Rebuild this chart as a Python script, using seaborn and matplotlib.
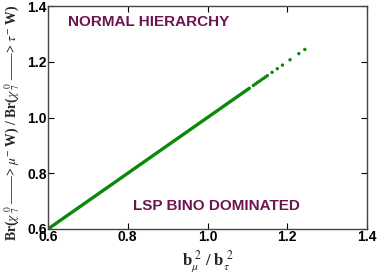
import numpy as np
import pandas as pd
import matplotlib
matplotlib.use("Agg")
import matplotlib.pyplot as plt
import seaborn as sns

# ratio of b_mu^2 / b_tau^2 (x) against branching ratio ratio (y)
dense_x = [0.60, 0.61, 0.62, 0.63, 0.64, 0.65, 0.66, 0.67, 0.68, 0.69,
           0.70, 0.71, 0.72, 0.73, 0.74, 0.75, 0.76, 0.77, 0.78, 0.79,
           0.80, 0.81, 0.82, 0.83, 0.84, 0.85, 0.86, 0.87, 0.88, 0.89,
           0.90, 0.91, 0.92, 0.93, 0.94, 0.95, 0.96, 0.97, 0.98, 0.99,
           1.00, 1.01, 1.02, 1.03, 1.04, 1.05, 1.06, 1.07, 1.08, 1.09,
           1.10, 1.105]
dense_y = [0.60, 0.61, 0.62, 0.63, 0.64, 0.65, 0.66, 0.67, 0.68, 0.69,
           0.70, 0.71, 0.72, 0.73, 0.74, 0.75, 0.76, 0.77, 0.78, 0.79,
           0.80, 0.81, 0.82, 0.83, 0.84, 0.85, 0.86, 0.87, 0.88, 0.89,
           0.90, 0.91, 0.92, 0.93, 0.94, 0.95, 0.96, 0.97, 0.98, 0.99,
           1.00, 1.01, 1.02, 1.03, 1.04, 1.05, 1.06, 1.07, 1.08, 1.09,
           1.10, 1.105]
sparse_x = [1.115, 1.12, 1.125, 1.13, 1.135, 1.14, 1.145, 1.15, 1.162,
            1.175, 1.188, 1.207, 1.229, 1.244]
sparse_y = [1.115, 1.12, 1.125, 1.13, 1.135, 1.14, 1.145, 1.15, 1.162,
            1.175, 1.188, 1.207, 1.229, 1.244]

x_ticks = [0.6, 0.8, 1.0, 1.2, 1.4]
y_ticks = [0.6, 0.8, 1.0, 1.2, 1.4]

green = "#0a8a0a"
maroon = "#6e1450"

sns.set_style("ticks")
plt.rcParams['font.family'] = ['Liberation Sans', 'DejaVu Sans']
plt.rcParams['mathtext.fontset'] = 'stix'

fig = plt.figure(figsize=(3.77, 2.73), dpi=100)
ax = fig.add_axes([48 / 377, 1 - 229 / 273, 319 / 377, 223 / 273])

dense = pd.DataFrame({"x": dense_x, "y": dense_y})
sparse = pd.DataFrame({"x": sparse_x, "y": sparse_y})
sns.lineplot(data=dense, x="x", y="y", ax=ax, color=green, linewidth=2.4)
sns.scatterplot(data=sparse, x="x", y="y", ax=ax, color=green, s=6,
                edgecolor="none")

ax.set_xlim(0.6, 1.4)
ax.set_ylim(0.6, 1.4)
ax.set_xticks(x_ticks)
ax.set_yticks(y_ticks)
ax.set_xticklabels([f"{t:.1f}" for t in x_ticks], fontsize=10, fontweight='bold')
ax.set_yticklabels([f"{t:.1f}" for t in y_ticks], fontsize=10, fontweight='bold')
ax.tick_params(direction='in', length=4, width=0.8, top=True, right=True,
               pad=1.0, colors='black')
for sp in ax.spines.values():
    sp.set_linewidth(1.0)
    sp.set_color('#444444')

serif = ['Liberation Serif', 'DejaVu Serif']
ax.set_xlabel(r"b$_{\mu}^{\ 2}$ / b$_{\tau}^{\ 2}$", fontsize=12,
              fontweight='bold', family=serif, labelpad=2.5)
ax.set_ylabel("Br($\\chi_{\\ 7}^{\\ 0}$ \u2014\u2014> $\\mu^{-}$ W) / "
              "Br($\\chi_{\\ 7}^{\\ 0}$ \u2014\u2014> $\\tau^{-}$ W)",
              fontsize=9.8, fontweight='bold', family=serif, labelpad=1)
ax.yaxis.set_label_coords(-26 / 319, 0.475)

ax.text(0.65, 1.343, "NORMAL HIERARCHY", color=maroon, fontsize=11,
        fontweight='bold', ha='left', va='center')
ax.text(0.813, 0.683, "LSP BINO DOMINATED", color=maroon, fontsize=11,
        fontweight='bold', ha='left', va='center')

fig.savefig("out.png", dpi=100)
